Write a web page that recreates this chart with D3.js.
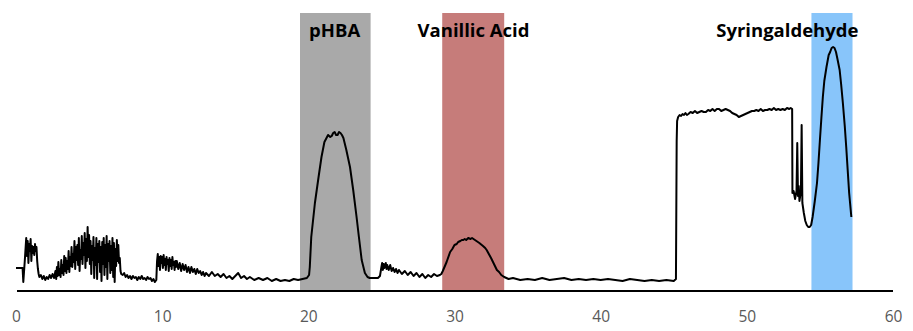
<!DOCTYPE html>
<html><head><meta charset="utf-8">
<script src="https://cdn.jsdelivr.net/npm/d3@7"></script>
<style>html,body{margin:0;padding:0;background:#fff;}svg{display:block;}</style>
</head><body>
<script>
// ---- data ----
const xTicks = [0, 10, 20, 30, 40, 50, 60];
const compounds = ["pHBA", "Vanillic Acid", "Syringaldehyde"];
const windowStart = [19.43, 29.16, 54.42];
const windowEnd = [24.26, 33.4, 57.23];
const labelAt = [21.8, 31.3, 52.77];
const windowColors = ["#A9A9A9", "#C67C7A", "#88C5FA"];
// trace: retention time (min) and detector signal (a.u.)
const time = [
0,0.45,0.5,0.6,0.7,0.75,0.8,0.85,0.9,0.95,1.0,1.05,1.1,1.15,1.2,1.25,1.3,1.35,1.4,1.45,1.5,1.55,1.6,1.7,1.8,1.9,2.0,2.1,2.2,2.3,2.4,2.5,2.6,2.7,2.75,2.8,2.85,2.9,2.95,3.0,3.05,3.1,3.15,3.2,3.25,3.3,3.35,3.4,3.45,3.5,3.55,3.6,3.65,3.7,3.75,3.8,3.85,3.9,3.95,4.0,4.05,4.1,4.15,4.2,4.25,4.3,4.35,4.4,4.45,4.5,4.55,4.6,4.65,4.7,4.75,4.8,4.85,4.9,4.95,5.0,5.05,5.1,5.15,5.2,5.25,5.3,5.35,5.4,5.45,5.5,5.55,5.6,5.65,5.7,5.75,5.8,5.85,5.9,5.95,6.0,6.05,6.1,6.15,6.2,6.25,6.3,6.35,6.4,6.45,6.5,6.55,6.6,6.65,6.7,6.75,6.8,6.85,6.9,6.95,7.0,7.05,7.1,7.15,7.2,7.3,7.4,7.5,7.6,7.7,7.8,7.9,8.0,8.1,8.2,8.3,8.4,8.5,8.6,8.7,8.8,8.9,9.0,9.1,9.2,9.3,9.4,9.5,9.6,
9.65,9.7,9.75,9.8,9.85,9.9,9.95,10.0,10.05,10.1,10.15,10.2,10.25,10.3,10.35,10.4,10.45,10.5,10.55,10.6,10.65,10.7,10.75,10.8,10.85,10.9,10.95,11.0,11.1,11.2,11.3,11.4,11.5,11.6,11.7,11.8,11.9,12.0,12.1,12.2,12.3,12.4,12.5,12.6,12.7,12.8,12.9,13.0,13.2,13.4,13.6,13.8,14.0,14.2,14.4,14.6,14.8,15.0,15.2,15.4,15.6,15.8,16.0,16.3,16.6,16.9,17.2,17.5,17.8,18.1,18.4,18.7,19.0,19.3,19.6,19.9,
20.05,20.1,20.2,20.45,20.7,20.9,21.1,21.35,21.5,21.6,21.7,21.8,21.9,22.0,22.1,22.2,22.3,22.4,22.6,22.85,23.07,23.3,23.46,23.65,23.87,24.05,24.2,24.5,24.76,24.9,
25.0,25.05,25.1,25.15,25.2,25.3,25.35,25.4,25.5,25.6,25.7,25.8,25.9,26.0,26.1,26.2,26.4,26.6,26.8,27.0,27.2,27.4,27.6,27.8,28.0,28.2,28.4,28.6,28.8,29.0,29.1,
29.2,29.46,29.7,29.85,30.0,30.15,30.25,30.4,30.5,30.6,30.7,30.8,30.94,31.1,31.2,31.3,31.4,31.5,31.6,31.7,31.95,32.1,32.2,32.35,32.5,32.7,32.9,33.05,33.2,33.4,33.7,
34.0,34.5,35.0,35.5,36.0,36.5,37.0,37.5,38.0,38.5,39.0,39.5,40.0,40.5,41.0,41.5,42.0,42.5,43.0,43.5,44.0,44.5,45.0,45.15,
45.2,45.23,45.3,45.4,45.5,45.6,45.7,45.8,45.9,46.0,46.15,46.3,46.45,46.6,46.75,46.9,47.05,47.2,47.35,47.5,47.65,47.8,47.95,48.1,48.25,48.4,48.55,48.7,48.85,49.0,49.15,49.3,49.45,49.6,49.75,49.9,50.05,50.2,50.35,50.5,50.65,50.8,50.95,51.1,51.25,51.4,51.55,51.7,51.85,52.0,52.15,52.3,52.45,52.6,52.75,52.9,53.0,53.1,
53.12,53.2,53.3,53.4,53.45,53.5,53.55,53.6,53.7,53.75,53.8,53.9,54.0,54.1,54.2,54.3,54.4,
54.5,54.65,54.8,54.9,55.0,55.1,55.2,55.3,55.45,55.6,55.7,55.8,55.9,56.0,56.1,56.2,56.35,56.45,56.57,56.7,56.8,56.9,57.0,57.15
];
const signal = [
23,23,9,30,53,35,50,28,47,40,52,30,45,38,44,36,47,40,44,30,22,17,14,16,12,15,11,14,12,16,13,17,13,20,12,24,15,29,16,22,14,31,18,26,16,35,20,33,18,30,22,40,19,34,25,44,24,37,29,50,22,44,31,46,26,53,20,41,32,55,27,48,36,58,23,52,30,64,34,56,27,50,17,45,31,54,13,43,26,53,12,47,29,50,19,44,10,49,27,53,16,46,24,55,12,47,30,50,18,45,21,53,14,48,9,42,25,51,30,46,28,33,20,17,16,18,14,16,13,15,12,15,13,14,11,14,12,15,12,13,11,14,12,13,10,12,9,11,
30,37,25,34,21,35,28,34,23,36,26,32,21,34,27,31,20,33,25,31,22,34,26,29,21,30,24,30,22,28,20,27,21,26,19,24,18,24,19,22,17,22,18,20,16,19,15,18,15,19,15,17,14,17,13,15,12,15,18,13,15,12,14,11,13,11,13,10,12,10,11,10,12,11,12,13,
16,24,54,88,114,134,149,156,154,155,158,159,156,156,159,158,156,153,141,124,101,74,54,31,18,14,13,13,13,15,
24,28,21,27,23,28,22,26,21,26,20,23,19,22,18,21,17,20,16,19,15,18,14,17,13,16,14,17,15,16,17,
20,29,39,42,46,47,49,50,51,51,52,51,53,52,53,52,51,50,49,48,45,43,41,37,33,27,21,19,16,14,12,
13,11,12,11,13,11,12,13,11,12,11,12,11,12,11,10,12,11,10,11,10,11,10,12,
150,170,174,176,175,177,176,178,176,177,179,178,180,178,179,180,179,179,181,180,182,180,182,182,180,181,182,181,180,178,177,176,174,175,176,177,178,179,180,180,181,180,182,180,181,181,182,181,183,181,182,181,182,181,183,182,183,182,
98,100,92,100,148,95,105,90,100,166,88,78,70,66,64,64,66,
74,90,108,128,151,173,194,210,224,236,239,243,244,243,239,232,221,207,188,165,144,121,98,74
];

// ---- chart ----
const W = 913, H = 331;
const svg = d3.select("body").append("svg").attr("width", W).attr("height", H);
const x = d3.scaleLinear().domain([0, 60]).range([16, 893]);
const y = d3.scaleLinear().domain([0, 280]).range([291, 11]);

// shaded windows
svg.append("g").selectAll("rect").data(compounds).join("rect")
  .attr("x", (d, i) => x(windowStart[i]))
  .attr("width", (d, i) => x(windowEnd[i]) - x(windowStart[i]))
  .attr("y", y(278))
  .attr("height", y(0) - y(278))
  .attr("fill", (d, i) => windowColors[i]);

// trace
const pts = time.map((t, i) => [t, signal[i]]);
svg.append("path").datum(pts)
  .attr("fill", "none").attr("stroke", "#000").attr("stroke-width", 2)
  .attr("stroke-linejoin", "round")
  .attr("d", d3.line().x(d => x(d[0])).y(d => y(d[1])));

// axis
const axis = d3.axisBottom(x).tickValues(xTicks).tickSize(0).tickPadding(20).tickFormat(d3.format("d"));
const gA = svg.append("g").attr("transform", `translate(0,${y(0)})`).call(axis);
gA.select(".domain").attr("stroke", "#000").attr("stroke-width", 2).attr("d", `M${x(0)+1},0H${x(60)}`);
gA.selectAll("text").attr("fill", "#595959").attr("font-family", "'Open Sans', sans-serif").attr("font-size", 15.5);

// labels
svg.append("g").selectAll("text").data(compounds).join("text")
  .attr("x", (d, i) => x(labelAt[i]))
  .attr("y", 37)
  .attr("text-anchor", "middle")
  .attr("font-family", "'Open Sans', sans-serif")
  .attr("font-weight", "bold")
  .attr("font-size", 18.5)
  .attr("fill", "#000")
  .text(d => d);
</script>
</body></html>
